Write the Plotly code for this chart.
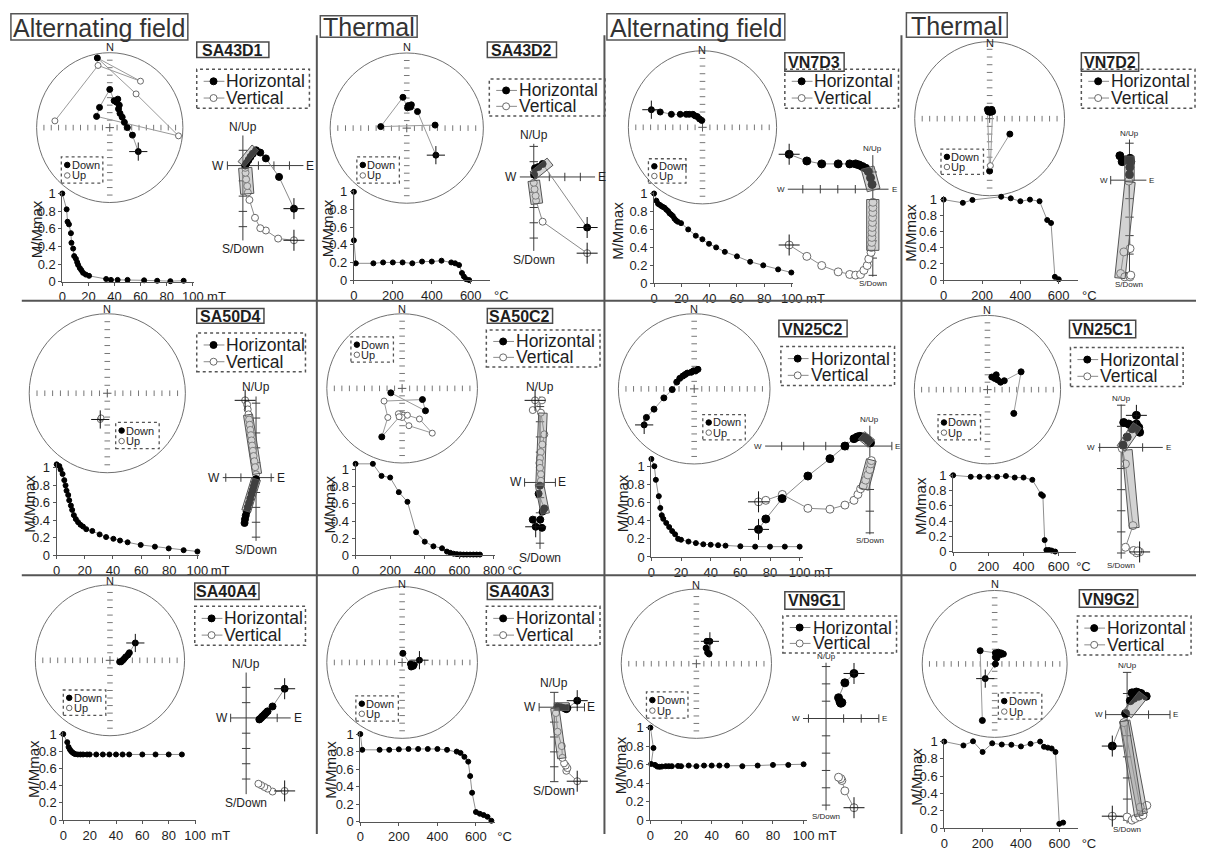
import plotly.graph_objects as go

W, H = 1206, 851
FONT = "Liberation Sans, Arial, Helvetica, sans-serif"

# ============================ DATA ============================
# st_*  : equal-area stereonet positions (unit circle), down = 1 filled / 0 open
# zh_*  : Zijderveld horizontal projection (E, N) in axis-tick units
# zv_*  : Zijderveld vertical projection (E, Up) in axis-tick units
# fits  : PCA fit boxes [E_start, N_start, E_end, N_end, width] in tick units
# dm_*  : demagnetisation curve, step (mT or degC) vs M/Mmax

# ---- SA43D1 (AF) ----
SA43D1_st_x = [0.39, 0.31, 0.24, 0.20, 0.17, 0.14, 0.12, 0.13, 0.09, 0.11, 0.06, 0.00, -0.14, -0.18, 0.94, 0.36, -0.17, 0.42, -0.16, -0.75]
SA43D1_st_y = [-0.32, -0.10, 0.00, 0.07, 0.14, 0.19, 0.25, 0.30, 0.34, 0.38, 0.36, 0.51, 0.27, 0.15, -0.11, 0.45, 0.93, 0.62, 0.83, 0.09]
SA43D1_st_down = [1, 1, 1, 1, 1, 1, 1, 1, 1, 1, 1, 1, 1, 1, 0, 0, 1, 0, 0, 0]
SA43D1_zh_e = [3.29, 2.33, 1.48, 1.12, 0.85, 0.64, 0.49, 0.36, 0.23, 0.15]
SA43D1_zh_n = [-2.82, -0.74, 0.47, 0.85, 1.00, 0.78, 0.57, 0.36, 0.15, 0.00]
SA43D1_zv_e = [3.29, 2.27, 1.48, 1.12, 0.78, 0.42, 0.32, 0.28, 0.21, 0.17, 0.15]
SA43D1_zv_u = [-4.89, -4.78, -4.25, -4.10, -3.42, -2.25, -1.76, -1.34, -0.90, -0.47, -0.15]
SA43D1_fits = [[-0.10, 0.08, 0.80, 1.17, 0.55], [0.15, -0.15, 0.28, -1.85, 0.85]]
SA43D1_dm_x = [0, 3.3, 4, 5.1, 6.6, 7, 8.3, 9.1, 10.4, 11.4, 12.1, 13.4, 14.6, 15.9, 18, 20.5, 33.6, 37.3, 42.4, 50, 62.7, 72.7, 82.8, 93]
SA43D1_dm_y = [1.0, 0.82, 0.68, 0.65, 0.55, 0.44, 0.375, 0.29, 0.26, 0.22, 0.19, 0.155, 0.13, 0.10, 0.08, 0.066, 0.03, 0.02, 0.02, 0.02, 0.015, 0.01, 0.005, 0.01]

# ---- SA43D2 (thermal) ----
SA43D2_st_x = [0.38, 0.14, 0.06, 0.03, 0.05, 0.02, 0.01, -0.05, -0.34, 0.37]
SA43D2_st_y = [-0.36, 0.22, 0.31, 0.29, 0.28, 0.30, 0.27, 0.41, 0.02, 0.04]
SA43D2_st_down = [1, 1, 1, 1, 1, 1, 1, 1, 1, 1]
SA43D2_zh_e = [3.44, 0.57, 0.30, 0.08, 0.02]
SA43D2_zh_n = [-3.31, 0.85, 0.65, 0.57, 0.15]
SA43D2_zv_e = [3.44, 0.57, 0.15, 0.12, 0.05, 0.00]
SA43D2_zv_u = [-4.99, -2.93, -1.55, -1.23, -0.80, -0.38]
SA43D2_fits = [[-0.05, 0.10, 1.05, 1.00, 0.6], [0.00, -0.25, 0.20, -1.75, 0.75]]
SA43D2_dm_x = [0, 0, 10, 100, 150, 200, 250, 300, 350, 400, 450, 500, 520, 540, 555, 565, 577, 592]
SA43D2_dm_y = [1.0, 0.45, 0.19, 0.19, 0.20, 0.20, 0.20, 0.19, 0.21, 0.21, 0.22, 0.20, 0.19, 0.17, 0.08, 0.04, 0.01, 0.0]

# ---- VN7D3 (AF) ----
VN7D3_st_x = [-0.69, -0.57, -0.42, -0.30, -0.22, -0.18, -0.13, -0.10, -0.07, -0.04, -0.01]
VN7D3_st_y = [0.23, 0.20, 0.17, 0.17, 0.17, 0.17, 0.17, 0.15, 0.14, 0.11, 0.09]
VN7D3_st_down = [1, 1, 1, 1, 1, 1, 1, 1, 1, 1, 1]
VN7D3_zh_e = [-4.78, -3.77, -2.92, -1.98, -1.32, -0.98, -0.79, -0.60, -0.41, -0.26, -0.13, -0.04]
VN7D3_zh_n = [2.03, 1.64, 1.47, 1.47, 1.47, 1.47, 1.41, 1.32, 1.22, 1.03, 0.66, 0.28]
VN7D3_zv_e = [-4.78, -3.77, -2.92, -1.98, -1.32, -0.98, -0.70, -0.51, -0.32, -0.23, -0.10, -0.08, -0.06, -0.05, -0.04, -0.03, -0.02, -0.01, 0.0, 0.0, 0.01]
VN7D3_zv_u = [-3.24, -3.90, -4.43, -4.80, -4.95, -4.99, -4.95, -4.71, -4.43, -4.05, -3.67, -3.38, -3.09, -2.80, -2.51, -2.22, -1.93, -1.64, -1.35, -1.06, -0.76]
VN7D3_fits = [[-0.30, 1.25, 0.05, -0.05, 0.75], [0.00, -0.60, 0.00, -3.55, 0.70]]
VN7D3_dm_x = [0, 1.7, 2.9, 4.1, 5.3, 6.5, 7.7, 8.9, 10.1, 11.2, 12.4, 13.6, 14.8, 16, 17.2, 19.6, 24.8, 30.3, 35.1, 39.9, 45.1, 51.4, 60.2, 69.8, 79.3, 90.1, 99.7]
VN7D3_dm_y = [1.0, 0.92, 0.885, 0.874, 0.86, 0.85, 0.84, 0.82, 0.805, 0.78, 0.766, 0.75, 0.72, 0.70, 0.686, 0.67, 0.60, 0.53, 0.49, 0.44, 0.40, 0.35, 0.30, 0.24, 0.20, 0.155, 0.12]

# ---- VN7D2 (thermal) ----
VN7D2_st_x = [0.00, -0.03, -0.01, 0.01, 0.03, -0.02, 0.01, 0.04, 0.01, 0.27]
VN7D2_st_y = [-0.68, 0.12, 0.11, 0.115, 0.12, 0.09, 0.08, 0.09, -0.61, -0.20]
VN7D2_st_down = [1, 1, 1, 1, 1, 1, 1, 1, 0, 1]
VN7D2_zh_e = [-0.51, -0.39, -0.21, 0.03, 0.07, 0.02, 0.00]
VN7D2_zh_n = [1.32, 1.00, 1.09, 1.18, 1.00, 0.70, 0.30]
VN7D2_zv_e = [-0.04, 0.03, -0.30, -0.47, -0.25, 0.03, 0.07]
VN7D2_zv_u = [-0.05, -3.70, -3.88, -5.05, -5.23, -5.23, -5.14]
VN7D2_fits = [[0.00, 1.30, 0.00, -0.05, 0.5], [0.03, -0.10, -0.51, -5.30, 0.55]]
VN7D2_dm_x = [0, 100, 150, 300, 350, 400, 450, 500, 540, 560, 580, 600]
VN7D2_dm_y = [1.0, 0.96, 0.996, 1.036, 1.016, 0.98, 1.0, 0.98, 0.746, 0.71, 0.04, 0.01]

# ---- SA50D4 (AF) ----
SA50D4_st_x = [-0.09, -0.08]
SA50D4_st_y = [-0.33, -0.31]
SA50D4_st_down = [0, 0]
SA50D4_zh_e = [-0.76, -0.73, -0.68, -0.62, -0.55, -0.46, -0.38, -0.30, -0.22, -0.15, -0.08, 0.00]
SA50D4_zh_n = [-3.05, -2.80, -2.55, -2.30, -2.00, -1.70, -1.40, -1.10, -0.85, -0.60, -0.35, -0.10]
SA50D4_zv_e = [-0.72, -0.59, -0.55, -0.50, -0.46, -0.42, -0.38, -0.34, -0.30, -0.26, -0.21, -0.16, -0.11, -0.06, 0.00]
SA50D4_zv_u = [5.19, 4.90, 4.58, 4.25, 3.90, 3.55, 3.20, 2.85, 2.50, 2.15, 1.80, 1.45, 1.10, 0.70, 0.22]
SA50D4_fits = [[-0.53, 4.22, 0.07, 0.25, 0.6], [0.00, -0.10, -0.65, -2.25, 0.6]]
SA50D4_dm_x = [0, 1.9, 2.8, 4.2, 5.4, 6.3, 7, 8.2, 8.9, 10.1, 11, 12.2, 13.6, 15.2, 16.9, 18.7, 21, 25.3, 30.5, 35.1, 40.3, 45, 50.4, 59.7, 69.8, 79.6, 90.2, 100]
SA50D4_dm_y = [1.04, 1.02, 0.98, 0.93, 0.86, 0.80, 0.74, 0.69, 0.63, 0.57, 0.52, 0.46, 0.415, 0.38, 0.35, 0.33, 0.30, 0.28, 0.24, 0.21, 0.19, 0.17, 0.15, 0.12, 0.10, 0.08, 0.06, 0.045]

# ---- SA50C2 (thermal) ----
SA50C2_st_x = [-0.15, 0.31, 0.27, -0.24, -0.19, -0.27, -0.01, -0.05, 0.02, 0.07, 0.23, 0.40, 0.09, 0.00, -0.04]
SA50C2_st_y = [-0.06, -0.30, -0.15, -0.17, -0.39, -0.65, -0.35, -0.34, -0.36, -0.36, -0.41, -0.60, -0.50, -0.39, -0.38]
SA50C2_st_down = [1, 1, 1, 0, 0, 1, 0, 0, 0, 0, 0, 0, 0, 0, 0]
SA50C2_zh_e = [-0.28, 0.13, -0.47, 0.02, 0.17, 0.28, -0.09, 0.00]
SA50C2_zh_n = [-2.92, -2.99, -2.45, -2.45, -1.92, -1.71, -0.74, -0.21]
SA50C2_zv_e = [-0.32, 0.13, -0.47, 0.06, 0.28, 0.15, 0.05, 0.00, -0.04, 0.00, 0.06, 0.06]
SA50C2_zv_u = [5.41, 5.41, 4.77, 4.60, 3.17, 2.50, 2.00, 1.60, 1.28, 0.96, 0.54, 0.11]
SA50C2_fits = [[0.19, 4.57, 0.00, -0.20, 0.55], [-0.04, -0.10, 0.34, -2.05, 0.55]]
SA50C2_dm_x = [0, 100, 150, 200, 250, 300, 350, 400, 450, 500, 528, 548, 567, 586, 605, 624, 643, 662, 681, 700, 719]
SA50C2_dm_y = [1.065, 1.065, 0.925, 0.906, 0.736, 0.623, 0.27, 0.16, 0.106, 0.083, 0.045, 0.03, 0.02, 0.015, 0.012, 0.01, 0.01, 0.01, 0.01, 0.01, 0.01]

# ---- VN25C2 (AF) ----
VN25C2_st_x = [-0.66, -0.63, -0.53, -0.40, -0.29, -0.23, -0.19, -0.15, -0.12, -0.09, -0.04, -0.01, 0.02, 0.05]
VN25C2_st_y = [-0.48, -0.38, -0.27, -0.12, -0.01, 0.09, 0.14, 0.17, 0.19, 0.21, 0.22, 0.24, 0.24, 0.26]
VN25C2_st_down = [1] * 14
VN25C2_zh_e = [-5.05, -4.72, -3.98, -2.81, -1.81, -1.13, -0.72, -0.57, -0.45, -0.30, -0.19, -0.08, 0.03]
VN25C2_zh_n = [-3.84, -3.36, -2.42, -1.38, -0.58, 0.00, 0.34, 0.42, 0.45, 0.42, 0.37, 0.27, 0.15]
VN25C2_zv_e = [-5.05, -4.72, -3.97, -2.81, -1.81, -1.13, -0.72, -0.54, -0.42, -0.30, -0.19, -0.09, 0.00, 0.04, 0.07]
VN25C2_zv_u = [-2.57, -2.50, -2.23, -2.87, -2.91, -2.72, -2.50, -2.23, -1.97, -1.83, -1.57, -1.33, -1.08, -0.82, -0.67]
VN25C2_fits = [[-0.38, 0.49, 0.07, 0.12, 0.45], [0.07, -0.64, -0.28, -1.98, 0.45]]
VN25C2_dm_x = [0, 2, 3, 5, 6, 7, 8, 10, 12, 14, 16, 18, 20, 25, 30, 35, 40, 45, 50, 60, 70, 80, 90, 100]
VN25C2_dm_y = [1.08, 1.0, 0.85, 0.67, 0.54, 0.46, 0.42, 0.375, 0.33, 0.285, 0.25, 0.20, 0.19, 0.17, 0.153, 0.14, 0.135, 0.13, 0.125, 0.118, 0.114, 0.114, 0.114, 0.114]

# ---- VN25C1 (thermal) ----
VN25C1_st_x = [0.36, 0.46, 0.23, 0.18, 0.14, 0.11, 0.06, 0.12, 0.10]
VN25C1_st_y = [-0.32, 0.24, 0.12, 0.10, 0.13, 0.16, 0.17, 0.20, 0.15]
VN25C1_st_down = [1] * 9
VN25C1_zh_e = [0.71, 0.86, 0.82, 0.71, 0.55, 0.35, 0.12, 0.51, 0.28, 0.09]
VN25C1_zh_n = [1.52, 0.72, 0.95, 1.11, 1.03, 1.11, 1.18, 0.88, 0.49, 0.11]
VN25C1_zv_e = [0.86, 0.72, 0.58, 0.78, 0.20, 0.55, 0.20, 0.05]
VN25C1_zv_u = [-4.95, -4.99, -4.88, -4.90, -4.73, -3.70, -0.78, -0.05]
VN25C1_fits = [[0.00, -0.05, 0.75, 1.05, 0.46], [0.28, -0.12, 0.61, -3.81, 0.46]]
VN25C1_dm_x = [0, 100, 150, 200, 250, 300, 350, 400, 450, 500, 510, 520, 530, 545, 560, 580]
VN25C1_dm_y = [1.0, 0.98, 0.98, 0.98, 0.98, 0.99, 0.97, 0.97, 0.94, 0.75, 0.73, 0.15, 0.02, 0.02, 0.013, 0.0]

# ---- SA40A4 (AF) ----
SA40A4_st_x = [0.34, 0.26, 0.24, 0.21, 0.19, 0.17, 0.15, 0.13]
SA40A4_st_y = [0.23, 0.10, 0.07, 0.045, 0.02, 0.00, -0.02, -0.02]
SA40A4_st_down = [1] * 8
SA40A4_zh_e = [2.48, 1.70, 1.38, 1.27, 1.17, 1.06, 0.96, 0.85]
SA40A4_zh_n = [1.91, 0.75, 0.43, 0.32, 0.21, 0.11, 0.00, -0.10]
SA40A4_zv_e = [2.48, 1.70, 1.38, 1.17, 0.96, 0.79]
SA40A4_zv_u = [-4.78, -4.82, -4.63, -4.52, -4.40, -4.31]
SA40A4_fits = []
SA40A4_dm_x = [0, 3, 4, 5, 6, 7, 8, 9, 11, 13, 15, 18, 20, 25, 30, 35, 40, 45, 50, 60, 70, 80, 90]
SA40A4_dm_y = [1.0, 0.906, 0.85, 0.82, 0.80, 0.786, 0.775, 0.767, 0.763, 0.763, 0.763, 0.763, 0.763, 0.763, 0.763, 0.763, 0.763, 0.763, 0.763, 0.763, 0.763, 0.763, 0.763]

# ---- SA40A3 (thermal) ----
SA40A3_st_x = [0.23, 0.16, 0.15, 0.13, 0.12, 0.11, 0.01]
SA40A3_st_y = [0.03, -0.03, -0.05, -0.03, -0.06, -0.02, 0.12]
SA40A3_st_down = [1] * 7
SA40A3_zh_e = [1.52, 0.87, 0.80, 0.65, 0.44, 0.22]
SA40A3_zh_n = [0.44, -0.06, -0.13, -0.06, 0.00, 0.04]
SA40A3_zv_e = [1.52, 0.80, 0.87, 0.76, 0.65, 0.54, 0.50, 0.22, 0.11]
SA40A3_zv_u = [-4.97, -4.27, -4.09, -3.92, -3.77, -3.40, -2.61, -1.65, -0.39]
SA40A3_fits = [[0.00, 0.04, 0.98, 0.04, 0.52], [0.04, -0.06, 0.50, -3.43, 0.55]]
SA40A3_dm_x = [0, 10, 100, 150, 200, 250, 300, 350, 400, 450, 500, 520, 540, 560, 570, 580, 600, 620, 640, 660, 680]
SA40A3_dm_y = [1.0, 0.82, 0.82, 0.82, 0.826, 0.83, 0.83, 0.83, 0.83, 0.82, 0.80, 0.785, 0.74, 0.685, 0.52, 0.33, 0.11, 0.09, 0.075, 0.055, 0.01]

# ---- VN9G1 (AF) ----
VN9G1_st_x = [0.18, 0.14, 0.13, 0.15, 0.17]
VN9G1_st_y = [0.30, 0.30, 0.21, 0.15, 0.13]
VN9G1_st_down = [1] * 5
VN9G1_zh_e = [1.59, 1.07, 0.71, 0.79, 0.84, 0.90]
VN9G1_zh_n = [2.60, 2.06, 1.20, 0.97, 0.88, 0.92]
VN9G1_zv_e = [1.59, 1.07, 0.90, 0.84, 0.71]
VN9G1_zv_u = [-5.15, -4.18, -3.58, -3.47, -3.39]
VN9G1_fits = []
VN9G1_dm_x = [0, 2, 0.5, 3, 4.5, 6, 7.5, 10, 12, 14, 18, 20, 25, 30, 35, 40, 45, 50, 60, 70, 80, 90, 100]
VN9G1_dm_y = [1.0, 0.78, 0.607, 0.597, 0.579, 0.576, 0.579, 0.583, 0.583, 0.583, 0.586, 0.583, 0.59, 0.583, 0.59, 0.59, 0.59, 0.59, 0.583, 0.59, 0.597, 0.597, 0.604]

# ---- VN9G2 (thermal) ----
VN9G2_st_x = [-0.13, 0.01, 0.03, 0.01, 0.08, 0.03, 0.12, 0.09, 0.05, 0.01, -0.20, -0.17]
VN9G2_st_y = [-0.20, 0.00, 0.08, 0.09, 0.125, 0.12, 0.135, 0.15, 0.16, 0.15, 0.18, -0.77]
VN9G2_st_down = [1] * 12
VN9G2_zh_e = [-0.69, -0.07, 0.15, 0.31, 0.54, 0.89, 0.65, 0.54, 0.43, 0.23]
VN9G2_zh_n = [-1.49, 0.05, 0.66, 0.77, 0.87, 0.87, 1.00, 1.03, 1.07, 1.03]
VN9G2_zv_e = [-0.69, 0.00, 0.23, 0.38, 0.58, 0.74, 0.92, 0.61, -0.15]
VN9G2_zv_u = [-4.81, -4.85, -5.00, -4.92, -4.84, -4.76, -4.30, -4.38, -0.38]
VN9G2_fits = [[0.00, 0.00, 0.75, 0.95, 0.5], [-0.10, -0.30, 0.72, -4.70, 0.46], [-0.15, -0.30, 0.55, -4.80, 0.40]]
VN9G2_dm_x = [0, 100, 150, 200, 250, 300, 350, 400, 450, 500, 520, 540, 560, 580, 600, 620]
VN9G2_dm_y = [1.0, 0.955, 1.003, 0.88, 0.98, 0.966, 0.963, 0.944, 0.974, 1.0, 0.94, 0.93, 0.92, 0.88, 0.05, 0.064]

AF_TICKS = [0, 20, 40, 60, 80, 100]
TH_TICKS_700 = [0, 200, 400, 600]
TH_TICKS_800 = [0, 200, 400, 600, 800]
HEADERS = ["Alternating field", "Thermal", "Alternating field", "Thermal"]

# ============================ LAYOUT (pixel geometry) ============================
PANELS = [
    dict(name="SA43D1", st=(SA43D1_st_x, SA43D1_st_y, SA43D1_st_down), zh=(SA43D1_zh_e, SA43D1_zh_n), zv=(SA43D1_zv_e, SA43D1_zv_u),
         fits=SA43D1_fits, dm=(SA43D1_dm_x, SA43D1_dm_y), xt=AF_TICKS, unit="mT", uo=24, no=5.7,
         g_st=(107, 125, 74, 77), g_zj=(241.7, 164, 15.7, 1.0, 3.9, 1.97, 4.9), g_dm=(59, 283.3, 192.7, 1.32, 101, 1.02),
         crosses=(1, 1, 1), zfs=12, tt=-26, nb=(195, 37, 268, 53), lb=(195, 65, 309, 105), db=(58, 155, 100, 182)),
    dict(name="SA43D2", st=(SA43D2_st_x, SA43D2_st_y, SA43D2_st_down), zh=(SA43D2_zh_e, SA43D2_zh_n), zv=(SA43D2_zv_e, SA43D2_zv_u),
         fits=SA43D2_fits, dm=(SA43D2_dm_x, SA43D2_dm_y), xt=TH_TICKS_700, unit="°C", uo=31, no=6.3,
         g_st=(407.5, 125.5, 77.5, 77.2), g_zj=(536, 175.7, 15.7, 0.9, 3.95, 2.17, 4.84), g_dm=(354, 281.7, 191, 0.197, 700, 1.02),
         crosses=(1, 1, 1), zfs=12, tt=-27, nb=(489, 37, 559, 53), lb=(491, 75, 608, 113), db=(357, 155, 400, 182)),
    dict(name="VN7D3", st=(VN7D3_st_x, VN7D3_st_y, VN7D3_st_down), zh=(VN7D3_zh_e, VN7D3_zh_n), zv=(VN7D3_zv_e, VN7D3_zv_u),
         fits=VN7D3_fits, dm=(VN7D3_dm_x, VN7D3_dm_y), xt=AF_TICKS, unit="mT", uo=24, no=1.0,
         g_st=(706.7, 124.7, 75, 78.7), g_zj=(879, 188.3, 17.7, 4.86, 0.9, 1.98, 5.08), g_dm=(657.7, 285, 192.7, 1.393, 101, 1.02),
         crosses=(1, 1, 1), zfs=8, tt=-37, nb=(790, 48, 850, 67), lb=(790, 65, 905, 105), db=(652, 157, 690, 182)),
    dict(name="VN7D2", st=(VN7D2_st_x, VN7D2_st_y, VN7D2_st_down), zh=(VN7D2_zh_e, VN7D2_zh_n), zv=(VN7D2_zv_e, VN7D2_zv_u),
         fits=VN7D2_fits, dm=(VN7D2_dm_x, VN7D2_dm_y), xt=TH_TICKS_700, unit="°C", uo=31, no=-1.0,
         g_st=(997.2, 115.8, 75.8, 79.2), g_zj=(1138.7, 179, 19, 1.0, 0.9, 2.2, 5.3), g_dm=(950.7, 281.7, 199, 0.194, 700, 1.05),
         crosses=(0, 0, 0), zfs=8, tt=-33, nb=(1090, 48, 1148, 67), lb=(1090, 65, 1205, 105), db=(948, 147, 991, 173)),
    dict(name="SA50D4", st=(SA50D4_st_x, SA50D4_st_y, SA50D4_st_down), zh=(SA50D4_zh_e, SA50D4_zh_n), zv=(SA50D4_zv_e, SA50D4_zv_u),
         fits=SA50D4_fits, dm=(SA50D4_dm_x, SA50D4_dm_y), xt=AF_TICKS, unit="mT", uo=23, no=5.3,
         g_st=(104.5, 398, 79, 81.7), g_zj=(255, 484.7, 15.3, 2.2, 1.2, 5.45, 4.25), g_dm=(53.3, 564.7, 474.7, 1.424, 101, 1.05),
         crosses=(1, 0, 1), zfs=12, tt=-27, nb=(195, 311, 263, 326), lb=(195, 336, 305, 376), db=(113, 428, 157, 455)),
    dict(name="SA50C2", st=(SA50C2_st_x, SA50C2_st_y, SA50C2_st_down), zh=(SA50C2_zh_e, SA50C2_zh_n), zv=(SA50C2_zv_e, SA50C2_zv_u),
         fits=SA50C2_fits, dm=(SA50C2_dm_x, SA50C2_dm_y), xt=TH_TICKS_800, unit="°C", uo=21, no=5.3,
         g_st=(402.8, 393, 76.2, 76.7), g_zj=(542.3, 489.7, 15.6, 1.0, 1.0, 5.67, 4.38), g_dm=(355.7, 564.7, 476.3, 0.175, 805, 1.08),
         crosses=(0, 1, 1), zfs=12, tt=-26, nb=(489, 311, 555, 326), lb=(488, 333, 603, 371), db=(351, 340, 394, 366)),
    dict(name="VN25C2", st=(VN25C2_st_x, VN25C2_st_y, VN25C2_st_down), zh=(VN25C2_zh_e, VN25C2_zh_n), zv=(VN25C2_zv_e, VN25C2_zv_u),
         fits=VN25C2_fits, dm=(VN25C2_dm_x, VN25C2_dm_y), xt=AF_TICKS, unit="mT", uo=24, no=5.0,
         g_st=(698.3, 393.5, 76.7, 77.2), g_zj=(876, 452.3, 22.3, 4.75, 1.0, 0.94, 4.07), g_dm=(655, 566.3, 473, 1.5, 102, 1.1),
         crosses=(1, 1, 1), zfs=8, tt=-29, nb=(784, 323, 853, 340), lb=(786, 350, 901, 390), db=(707, 420, 750, 446)),
    dict(name="VN25C1", st=(VN25C1_st_x, VN25C1_st_y, VN25C1_st_down), zh=(VN25C1_zh_e, VN25C1_zh_n), zv=(VN25C1_zv_e, VN25C1_zv_u),
         fits=VN25C1_fits, dm=(VN25C1_dm_x, VN25C1_dm_y), xt=TH_TICKS_700, unit="°C", uo=25, no=6.0,
         g_st=(995, 394.3, 74, 76.3), g_zj=(1130.3, 453.7, 21.7, 1.07, 1.94, 2.03, 5.27), g_dm=(960.3, 560.7, 482.3, 0.178, 700, 1.02),
         crosses=(0, 1, 1), zfs=8, tt=-33, nb=(1078, 323, 1145, 341), lb=(1079, 351, 1193, 391), db=(945, 420, 988, 446)),
    dict(name="SA40A4", st=(SA40A4_st_x, SA40A4_st_y, SA40A4_st_down), zh=(SA40A4_zh_e, SA40A4_zh_n), zv=(SA40A4_zv_e, SA40A4_zv_u),
         fits=SA40A4_fits, dm=(SA40A4_dm_x, SA40A4_dm_y), xt=AF_TICKS, unit="mT", uo=26, no=4.3,
         g_st=(107.2, 672.5, 75.5, 77.5), g_zj=(245, 731.7, 15.7, 1.0, 2.87, 2.97, 4.99), g_dm=(60, 836.7, 748.3, 1.333, 101, 1.02),
         crosses=(1, 1, 1), zfs=12, tt=-30, nb=(193, 593, 258, 610), lb=(193, 617, 305, 657), db=(60, 703, 103, 729)),
    dict(name="SA40A3", st=(SA40A3_st_x, SA40A3_st_y, SA40A3_st_down), zh=(SA40A3_zh_e, SA40A3_zh_n), zv=(SA40A3_zv_e, SA40A3_zv_u),
         fits=SA40A3_fits, dm=(SA40A3_dm_x, SA40A3_dm_y), xt=TH_TICKS_700, unit="°C", uo=29, no=2.7,
         g_st=(402.8, 674.7, 76.2, 78), g_zj=(556.7, 720.7, 15.3, 1.0, 2.0, 1.0, 5.0), g_dm=(360.5, 838.3, 748.3, 0.195, 700, 1.02),
         crosses=(1, 1, 1), zfs=12, tt=-30, nb=(489, 593, 555, 610), lb=(488, 617, 603, 657), db=(356, 709, 399, 735)),
    dict(name="VN9G1", st=(VN9G1_st_x, VN9G1_st_y, VN9G1_st_down), zh=(VN9G1_zh_e, VN9G1_zh_n), zv=(VN9G1_zv_e, VN9G1_zv_u),
         fits=VN9G1_fits, dm=(VN9G1_dm_x, VN9G1_dm_y), xt=AF_TICKS, unit="mT", uo=24, no=4.3,
         g_st=(700.5, 676, 76, 76.7), g_zj=(831.7, 732.3, 17.8, 1.31, 3.0, 3.22, 5.3), g_dm=(654, 836.7, 741.7, 1.55, 102, 1.02),
         crosses=(1, 1, 1), zfs=8, tt=-30, nb=(790, 602, 850, 620), lb=(788, 627, 903, 665), db=(650, 705, 692, 732)),
    dict(name="VN9G2", st=(VN9G2_st_x, VN9G2_st_y, VN9G2_st_down), zh=(VN9G2_zh_e, VN9G2_zh_n), zv=(VN9G2_zv_e, VN9G2_zv_u),
         fits=VN9G2_fits, dm=(VN9G2_dm_x, VN9G2_dm_y), xt=TH_TICKS_700, unit="°C", uo=30, no=6.7,
         g_st=(1002.3, 676.2, 73.3, 75.5), g_zj=(1136.3, 728.3, 21.7, 1.0, 2.0, 2.0, 5.15), g_dm=(951.3, 845, 756, 0.194, 700, 1.02),
         crosses=(1, 1, 1), zfs=8, tt=-29, nb=(1088, 600, 1147, 618), lb=(1086, 627, 1201, 667), db=(1006, 706, 1050, 733)),
]
HEADER_BOXES = [(7, 8, 186, 35), (320, 10, 418, 32), (610, 8, 790, 35), (913, 7, 1015, 32)]
V_DIVIDERS = [(316.5, 30), (607.5, 30), (908, 30)]
H_DIVIDERS = [303, 585]

# ============================ BUILD ============================
fig = go.Figure()
LAY = {}
SHAPES = []
ANN = []
NAX = [0]

LINE_GRAY = "#8a8a8a"
OPEN_EDGE = "#6a6a6a"
AX_COL = "#3c3c3c"
TICKFONT = dict(size=13, color="#1e1e1e", family=FONT)


def PX(x):
    return x / W


def PY(y):
    return 1 - y / H


def new_id():
    NAX[0] += 1
    return "" if NAX[0] == 1 else str(NAX[0])


def make_axes(ox, oy, sx, sy, box):
    x0, y0, x1, y1 = box
    x0, y0, x1, y1 = max(0, x0), max(0, y0), min(W, x1), min(H, y1)
    s = new_id()
    LAY["xaxis" + s] = dict(domain=[x0 / W, x1 / W], range=[(x0 - ox) / sx, (x1 - ox) / sx],
                            anchor="y" + s, visible=False, fixedrange=True)
    LAY["yaxis" + s] = dict(domain=[1 - y1 / H, 1 - y0 / H], range=[(oy - y1) / sy, (oy - y0) / sy],
                            anchor="x" + s, visible=False, fixedrange=True)
    return "x" + s, "y" + s, s


def sc(xa, ya, x, y, **kw):
    fig.add_trace(go.Scatter(x=x, y=y, xaxis=xa, yaxis=ya, hoverinfo="skip", showlegend=False,
                             cliponaxis=False, **kw))


def lines(xa, ya, x, y, color=LINE_GRAY, width=1):
    sc(xa, ya, x, y, mode="lines", line=dict(color=color, width=width))


def marks(xa, ya, x, y, fill, edge, size, symbol="circle", lw=1):
    sc(xa, ya, x, y, mode="markers",
       marker=dict(symbol=symbol, size=size, color=fill, line=dict(color=edge, width=lw)))


def cross(xa, ya, x, y, size=13):
    sc(xa, ya, [x], [y], mode="markers",
       marker=dict(symbol="cross-thin", size=size, line=dict(color="#111", width=1)))


def text(x, y, s, size, xref="paper", yref="paper", xanchor="center", yanchor="middle",
         xshift=0, yshift=0, color="#1e1e1e", bold=False, angle=0):
    if xref == "paper":
        x = PX(x)
    if yref == "paper":
        y = PY(y)
    ANN.append(dict(x=x, y=y, xref=xref, yref=yref, text=("<b>%s</b>" % s) if bold else s, showarrow=False,
                    xanchor=xanchor, yanchor=yanchor, xshift=xshift, yshift=yshift, textangle=angle,
                    font=dict(size=size, color=color, family=FONT), borderpad=0))


def rect(x0, y0, x1, y1, color="#4a4a4a", width=1.5, dash="solid", fill="rgba(0,0,0,0)"):
    SHAPES.append(dict(type="rect", xref="paper", yref="paper", x0=PX(x0), x1=PX(x1), y0=PY(y1), y1=PY(y0),
                       line=dict(color=color, width=width, dash=dash), fillcolor=fill, layer="above"))


def pline(x0, y0, x1, y1, color, width):
    SHAPES.append(dict(type="line", xref="paper", yref="paper", x0=PX(x0), x1=PX(x1), y0=PY(y0), y1=PY(y1),
                       line=dict(color=color, width=width), layer="above"))


def pdot(x, y, d, fill, edge):
    SHAPES.append(dict(type="circle", xref="paper", yref="paper", xsizemode="pixel", ysizemode="pixel",
                       xanchor=PX(x), yanchor=PY(y), x0=-d / 2, x1=d / 2, y0=-d / 2, y1=d / 2,
                       fillcolor=fill, line=dict(color=edge, width=1), layer="above"))


def fit_path(e1, n1, e2, n2, w):
    de, dn = e2 - e1, n2 - n1
    L = (de * de + dn * dn) ** 0.5 or 1.0
    ne, nn = -dn / L * w / 2, de / L * w / 2
    pts = [(e1 + ne, n1 + nn), (e2 + ne, n2 + nn), (e2 - ne, n2 - nn), (e1 - ne, n1 - nn)]
    return "M " + " L ".join("%.4f,%.4f" % p for p in pts) + " Z"


def add_panel(p):
    vn = p["name"].startswith("VN")
    c_st, c_zh, c_zv = p["crosses"]

    # ---------------- stereonet ----------------
    cx, cy, rx, ry = p["g_st"]
    xa, ya, _ = make_axes(cx, cy, rx, ry, (cx - 1.12 * rx, cy - 1.12 * ry, cx + 1.12 * rx, cy + 1.12 * ry))
    SHAPES.append(dict(type="circle", xref=xa, yref=ya, x0=-1, y0=-1, x1=1, y1=1,
                       line=dict(color="#707070", width=1), layer="below"))
    tk = [i / 10 for i in range(-9, 10) if i != 0]
    marks(xa, ya, tk, [0] * len(tk), "#777", "#777", 4, "line-ns")
    marks(xa, ya, [0] * len(tk), tk, "#777", "#777", 4, "line-ew")
    marks(xa, ya, [0], [0], "#555", "#555", 6, "cross-thin")
    text(cx, cy - ry - p["no"], "N", 11)
    sx_, sy_, sd_ = p["st"]
    lines(xa, ya, sx_, sy_, color="#9a9a9a")
    marks(xa, ya, sx_, sy_, ["#000" if d else "#fff" for d in sd_],
          ["#000" if d else OPEN_EDGE for d in sd_], 6)
    if c_st:
        cross(xa, ya, sx_[0], sy_[0], 13)

    # ---------------- Zijderveld ----------------
    ox, oy, t, l, r, u, d = p["g_zj"]
    xa, ya, _ = make_axes(ox, oy, t, t, (ox - (l + 0.9) * t, oy - (u + 0.9) * t, ox + (r + 0.9) * t, oy + (d + 0.9) * t))
    lines(xa, ya, [-l, r, None, 0, 0], [0, 0, None, u, -d], color=AX_COL, width=1)
    hx = [i for i in range(-int(l), int(r) + 1) if i != 0]
    vy = [i for i in range(-int(d), int(u) + 1) if i != 0]
    marks(xa, ya, hx, [0] * len(hx), AX_COL, AX_COL, 6, "line-ns")
    marks(xa, ya, [0] * len(vy), vy, AX_COL, AX_COL, 6, "line-ew")
    fs = p["zfs"]
    text(ox, oy - u * t - 1, "N/Up", fs, yanchor="bottom")
    text(ox, oy + d * t + 1, "S/Down", fs, yanchor="top")
    text(ox - l * t - 2, oy, "W", fs, xanchor="right")
    text(ox + r * t + 2, oy, "E", fs, xanchor="left")
    ms = 8 if vn else 7
    ve, vu = p["zv"]
    he, hn = p["zh"]
    lines(xa, ya, ve, vu)
    lines(xa, ya, he, hn)
    marks(xa, ya, ve, vu, "#fff", OPEN_EDGE, ms)
    marks(xa, ya, he, hn, "#000", "#000", ms)
    if c_zv:
        cross(xa, ya, ve[0], vu[0], 15)
    if c_zh:
        cross(xa, ya, he[0], hn[0], 15)
    for f in p["fits"]:
        SHAPES.append(dict(type="path", xref=xa, yref=ya, path=fit_path(*f),
                           fillcolor="rgba(150,150,150,0.42)", line=dict(color="#555", width=1), layer="above"))

    # ---------------- demag curve ----------------
    x0, y0, y1, s, xend, ytop = p["g_dm"]
    sy = y0 - y1
    xa, ya, k = make_axes(x0, y0, s, sy, (x0, y0 - ytop * sy, x0 + xend * s, y0))
    axstyle = dict(visible=True, showline=True, linecolor="#555", linewidth=1, ticks="outside", ticklen=3,
                   tickcolor="#555", showgrid=False, zeroline=False, tickfont=TICKFONT)
    LAY["xaxis" + k].update(axstyle, range=[0, xend], tickmode="array", tickvals=p["xt"],
                            ticktext=[str(v) for v in p["xt"]])
    LAY["yaxis" + k].update(axstyle, range=[0, ytop], tickmode="array", tickvals=[0, 0.2, 0.4, 0.6, 0.8, 1],
                            ticktext=["0", "0.2", "0.4", "0.6", "0.8", "1"])
    dx, dy = p["dm"]
    lines(xa, ya, dx, dy, color="#8f8f8f")
    marks(xa, ya, dx, dy, "#000", "#000", 5)
    # unit label drawn as the single tick label of a companion x axis on the same baseline
    ext = 45.0
    ku = new_id()
    LAY["xaxis" + ku] = dict(domain=[x0 / W, min(W, x0 + xend * s + ext) / W],
                             range=[0, xend + ext / s], anchor="y" + k, visible=True, fixedrange=True,
                             showline=False, showgrid=False, zeroline=False, ticks="outside", ticklen=3,
                             tickcolor="rgba(0,0,0,0)", tickmode="array",
                             tickvals=[p["xt"][-1] + p["uo"] / s], ticktext=[p["unit"]], tickfont=TICKFONT)
    fig.add_trace(go.Scatter(x=[None], y=[None], xaxis="x" + ku, yaxis=ya, hoverinfo="skip", showlegend=False))
    text(x0 + p["tt"], y0 - 0.59 * sy, "M/Mmax", 15, angle=-90)

    # ---------------- labels / legends ----------------
    bx0, by0, bx1, by1 = p["nb"]
    rect(bx0, by0, bx1, by1, color="#4a4a4a", width=1.5)
    text((bx0 + bx1) / 2, (by0 + by1) / 2 + 0.5, p["name"], 16, bold=True)

    lx0, ly0, lx1, ly1 = p["lb"]
    rect(lx0, ly0, lx1, ly1, color="#555", width=1.5, dash="dot")
    r1 = ly0 + 0.31 * (ly1 - ly0)
    r2 = ly0 + 0.74 * (ly1 - ly0)
    for ry_, fill, edge, lab in ((r1, "#000", "#000", "Horizontal"), (r2, "#fff", OPEN_EDGE, "Vertical")):
        pline(lx0 + 7, ry_, lx0 + 28, ry_, "#8a8a8a", 1)
        pdot(lx0 + 17, ry_, 7, fill, edge)
        text(lx0 + 29, ry_, lab, 17.5, xanchor="left")

    dx0, dy0, dx1, dy1 = p["db"]
    rect(dx0, dy0, dx1, dy1, color="#555", width=1.3, dash="dot")
    q1 = dy0 + 0.31 * (dy1 - dy0)
    q2 = dy0 + 0.71 * (dy1 - dy0)
    pdot(dx0 + 6, q1, 5.5, "#000", "#000")
    pdot(dx0 + 6, q2, 5.5, "#fff", OPEN_EDGE)
    text(dx0 + 9.5, q1, "Down", 11, xanchor="left")
    text(dx0 + 9.5, q2, "Up", 11, xanchor="left")


for p in PANELS:
    add_panel(p)

# column headers
for h, (x0, y0, x1, y1) in zip(HEADERS, HEADER_BOXES):
    rect(x0, y0, x1, y1, color="#555", width=1.5, fill="#fff")
    text((x0 + x1) / 2, (y0 + y1) / 2 + 1, h, 25, color="#333")

# dividers
for x, ytop in V_DIVIDERS:
    pline(x, ytop, x, H, "#555", 2)
for y in H_DIVIDERS:
    pline(18, y, W, y, "#555", 2)

LAY.update(width=W, height=H, margin=dict(l=0, r=0, t=0, b=0), autosize=False,
           paper_bgcolor="#fff", plot_bgcolor="rgba(0,0,0,0)", showlegend=False,
           font=dict(family=FONT, color="#1e1e1e"), shapes=SHAPES, annotations=ANN)
fig.update_layout(**LAY)
fig.write_html("out.html", config=dict(displayModeBar=False, staticPlot=True))
